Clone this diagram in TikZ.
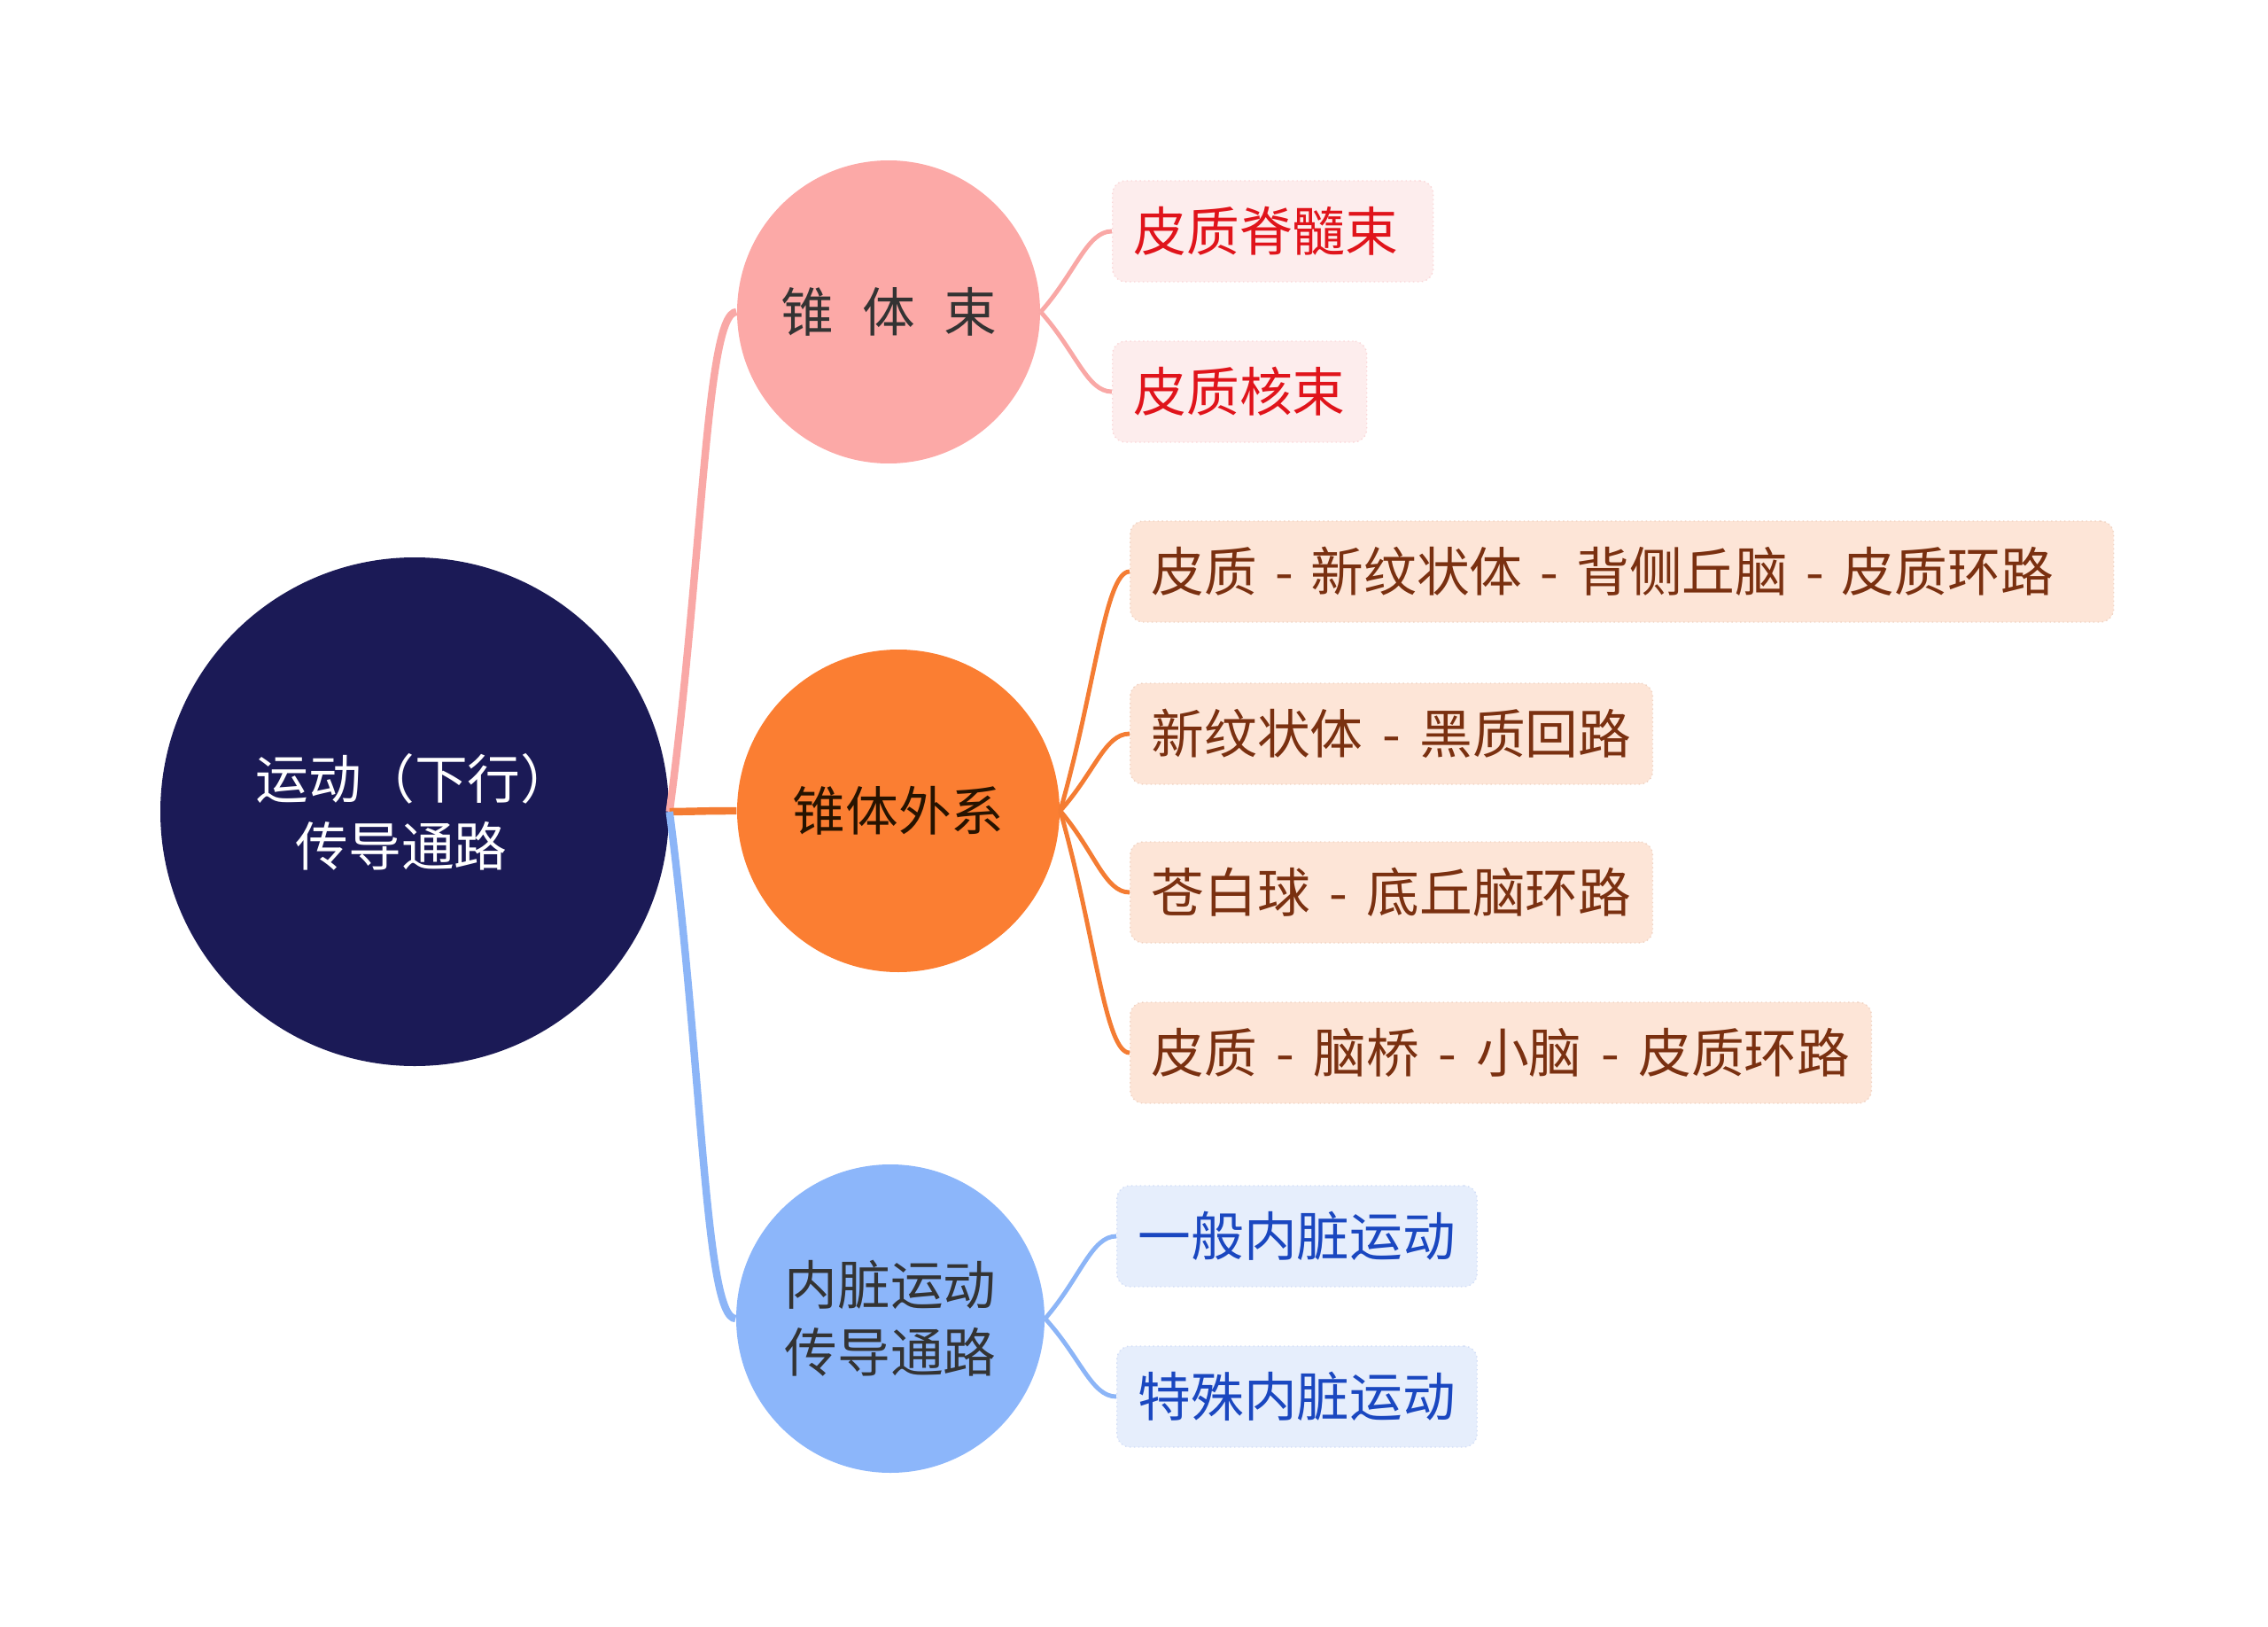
\documentclass[tikz,border=0pt]{standalone}
\usepackage{fontspec}
\newfontfamily\cjk{Noto Sans CJK SC}
\usetikzlibrary{calc}

\definecolor{navy}{HTML}{1B1A56}
\definecolor{pinkhub}{HTML}{FCA9A7}
\definecolor{pinkline}{HTML}{F9A8A6}
\definecolor{pinkbox}{HTML}{FDEDED}
\definecolor{pinktext}{HTML}{E0141B}
\definecolor{orangehub}{HTML}{FB7E32}
\definecolor{orangeline}{HTML}{F47C33}
\definecolor{orangebox}{HTML}{FDE5D7}
\definecolor{orangetext}{HTML}{7A3010}
\definecolor{bluehub}{HTML}{8CB6FA}
\definecolor{blueline}{HTML}{8CB5F7}
\definecolor{bluebox}{HTML}{E6EEFC}
\definecolor{bluetext}{HTML}{1A47C0}

\newcommand{\hubfont}{\cjk\fontsize{17}{21.6}\selectfont}
\newcommand{\leaffont}{\cjk\fontsize{17}{21.6}\selectfont\spaceskip 0.36em\relax}
\newcommand{\widefont}{\cjk\fontsize{17}{21.6}\selectfont\spaceskip 0.54em\relax}

\tikzset{
  hub/.style={circle, inner sep=0pt, align=center, text=black!80, font=\hubfont},
  leaf/.style={anchor=west, rounded corners=0.15cm, minimum height=1.14cm,
    inner xsep=0.24cm, densely dotted, line width=0.4pt, font=\leaffont},
  branch/.style={line width=2.4pt, to path={.. controls ($(\tikztostart)!0.5!(\tikztotarget)$)
    and ($(\tikztotarget)+(-0.35,0)$) .. (\tikztotarget)}},
  twig/.style={line width=1.4pt, to path={.. controls ($(\tikztostart)!0.5!(\tikztotarget)$)
    and ($(\tikztotarget)+(-0.28,0)$) .. (\tikztotarget)}},
}

\begin{document}
\begin{tikzpicture}
\useasboundingbox (0,0) rectangle (25.6,-18.36);

% centre and the three hubs
\node[hub, fill=navy, text=white, minimum size=5.74cm] (ROOT) at (4.68,-9.16) {运动（下行）\\传导通路\hspace*{0.5em}};
\node[hub, fill=pinkhub, minimum size=3.42cm, font=\widefont] (PYR) at (10.03,-3.52) {锥 体 束};
\node[hub, fill=orangehub, text=black!85!orange, minimum size=3.64cm] (EXT) at (10.14,-9.15) {锥体外系};
\node[hub, fill=bluehub, minimum size=3.48cm] (VIS) at (10.05,-14.88) {内脏运动\\传导通路};

% leaves
\node[leaf, fill=pinkbox, draw=pinkbox!90!pinktext, text=pinktext, text width=3.14cm] (P1) at (12.55,-2.61) {皮质脊髓束};
\node[leaf, fill=pinkbox, draw=pinkbox!90!pinktext, text=pinktext] (P2) at (12.55,-4.42) {皮质核束};

\node[leaf, fill=orangebox, draw=orangebox!90!orangetext, text=orangetext, text width=10.62cm] (O1) at (12.75,-6.45) {皮质 - 新纹状体 - 背侧丘脑 - 皮质环路};
\node[leaf, fill=orangebox, draw=orangebox!90!orangetext, text=orangetext] (O2) at (12.75,-8.28) {新纹状体 - 黑质回路};
\node[leaf, fill=orangebox, draw=orangebox!90!orangetext, text=orangetext] (O3) at (12.75,-10.07) {苍白球 - 底丘脑环路};
\node[leaf, fill=orangebox, draw=orangebox!90!orangetext, text=orangetext] (O4) at (12.75,-11.88) {皮质 - 脑桥 - 小脑 - 皮质环路};

\node[leaf, fill=bluebox, draw=bluebox!90!bluetext, text=bluetext] (B1) at (12.60,-13.95) {一般内脏运动};
\node[leaf, fill=bluebox, draw=bluebox!90!bluetext, text=bluetext] (B2) at (12.60,-15.76) {特殊内脏运动};

% connectors
\draw[branch, pinkline] (ROOT.east) to (PYR.west);
\draw[branch, orangeline] (ROOT.east) to (EXT.west);
\draw[branch, blueline] (ROOT.east) to (VIS.west);

\foreach \n in {P1,P2} \draw[twig, pinkline] (PYR.east) to (\n.west);
\foreach \n in {O1,O2,O3,O4} \draw[twig, orangeline] (EXT.east) to (\n.west);
\foreach \n in {B1,B2} \draw[twig, blueline] (VIS.east) to (\n.west);
\end{tikzpicture}
\end{document}
